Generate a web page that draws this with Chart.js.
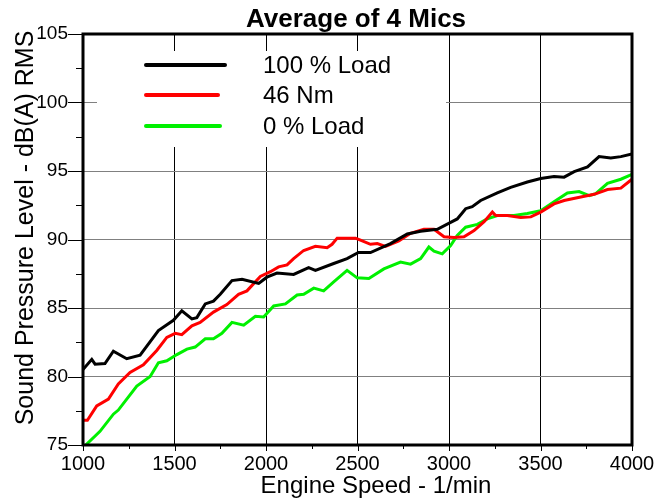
<!DOCTYPE html>
<html>
<head>
<meta charset="utf-8">
<script src="https://cdn.jsdelivr.net/npm/chart.js@4/dist/chart.umd.min.js"></script>
<style>
  html, body { margin: 0; padding: 0; background: #fff; }
  #wrap { width: 656px; height: 504px; }
</style>
</head>
<body>
<div id="wrap"><canvas id="chart" width="656" height="504"></canvas></div>
<script>
  // data (engine speed in 1/min, level in dB(A))
  const rpmFull = [1000, 1048, 1066, 1120, 1166, 1239, 1312, 1412, 1494, 1540, 1595, 1622, 1668, 1713, 1750, 1814,
    1869, 1960, 2005, 2060, 2151, 2233, 2270, 2370, 2443, 2505, 2571, 2680, 2772, 2845, 2936, 3009,
    3045, 3091, 3127, 3173, 3264, 3337, 3428, 3501, 3574, 3629, 3684, 3757, 3820, 3884, 3939, 4000];
  const levelFull = [80.5, 81.25, 80.9, 80.95, 81.85, 81.3, 81.55, 83.35, 84.1, 84.8, 84.2, 84.3, 85.3, 85.5, 86.0, 87.0,
    87.1, 86.8, 87.25, 87.55, 87.45, 87.95, 87.75, 88.25, 88.6, 89.05, 89.05, 89.7, 90.4, 90.6, 90.75, 91.25,
    91.5, 92.25, 92.4, 92.85, 93.4, 93.8, 94.2, 94.45, 94.6, 94.55, 94.95, 95.3, 96.05, 95.95, 96.05, 96.25];

  const rpm46 = [1000, 1024, 1075, 1139, 1193, 1257, 1330, 1403, 1458, 1504, 1540, 1595, 1640, 1713, 1786, 1850,
    1896, 1969, 2024, 2069, 2115, 2151, 2206, 2270, 2334, 2361, 2389, 2489, 2516, 2571, 2608, 2653,
    2726, 2790, 2863, 2918, 2973, 3027, 3082, 3137, 3192, 3237, 3255, 3319, 3392, 3447, 3501, 3574,
    3629, 3720, 3793, 3866, 3939, 4000];
  const level46 = [76.8, 76.8, 77.85, 78.35, 79.45, 80.3, 80.85, 81.9, 82.85, 83.15, 83.05, 83.7, 83.95, 84.7, 85.25, 86.0,
    86.25, 87.3, 87.65, 88.0, 88.15, 88.6, 89.2, 89.5, 89.4, 89.65, 90.1, 90.1, 89.95, 89.65, 89.7, 89.5,
    89.9, 90.45, 90.75, 90.75, 90.2, 90.15, 90.2, 90.65, 91.3, 92.0, 91.75, 91.75, 91.6, 91.65, 92.0, 92.6,
    92.85, 93.1, 93.3, 93.65, 93.75, 94.4];

  const rpmZero = [1015, 1093, 1166, 1193, 1239, 1294, 1367, 1412, 1458, 1513, 1568, 1613, 1668, 1713, 1759, 1814,
    1878, 1942, 1987, 2042, 2106, 2170, 2206, 2261, 2315, 2370, 2443, 2498, 2562, 2644, 2735, 2790,
    2845, 2890, 2918, 2963, 3009, 3045, 3091, 3155, 3209, 3264, 3355, 3428, 3501, 3574, 3647, 3711,
    3766, 3802, 3866, 3939, 4000];
  const levelZero = [75.0, 76.0, 77.25, 77.55, 78.35, 79.3, 80.0, 81.0, 81.15, 81.6, 82.0, 82.15, 82.75, 82.75, 83.15, 83.95,
    83.75, 84.4, 84.35, 85.15, 85.3, 85.95, 86.0, 86.45, 86.25, 86.9, 87.75, 87.2, 87.15, 87.85, 88.35, 88.2,
    88.6, 89.45, 89.15, 88.95, 89.55, 90.3, 90.9, 91.1, 91.5, 91.75, 91.75, 91.9, 92.1, 92.75, 93.4, 93.5,
    93.2, 93.35, 94.1, 94.4, 94.75];

  const seriesNames = ["100 % Load", "46 Nm", "0 % Load"];
  const seriesColors = ["#000000", "#ff0000", "#00f000"];

  const xTicks = [1000, 1500, 2000, 2500, 3000, 3500, 4000];
  const yTicks = [75, 80, 85, 90, 95, 100, 105];

  const FONT = "'Liberation Sans', Arial, sans-serif";

  function toPoints(xs, ys) {
    return xs.map((x, i) => ({ x: x, y: ys[i] }));
  }

  // legend box, minor ticks, frame and titles
  const decor = {
    id: "decor",
    beforeDatasetsDraw(chart) {
      const ctx = chart.ctx;
      ctx.save();
      ctx.fillStyle = "#fff";
      ctx.fillRect(97, 51, 349, 96);
      const rows = [65, 95, 126];
      const ends = [225, 218, 220];
      chart.data.datasets.forEach((ds, i) => {
        ctx.strokeStyle = ds.borderColor;
        ctx.lineWidth = 4;
        ctx.lineCap = "round";
        ctx.beginPath();
        ctx.moveTo(146, rows[i]);
        ctx.lineTo(ends[i], rows[i]);
        ctx.stroke();
        ctx.fillStyle = "#000";
        ctx.font = "24px " + FONT;
        ctx.textBaseline = "middle";
        ctx.textAlign = "left";
        ctx.fillText(ds.label, 263, rows[i] + 1);
      });
      ctx.restore();
    },
    afterDraw(chart) {
      const ctx = chart.ctx;
      const a = chart.chartArea;
      const xs = chart.scales.x, ys = chart.scales.y;
      ctx.save();
      ctx.strokeStyle = "#000";
      ctx.lineWidth = 1;
      ctx.beginPath();
      for (let v = ys.min; v <= ys.max + 0.01; v += 2.5) {
        const p = Math.round(ys.getPixelForValue(v)) + 0.5;
        const len = (v % 5 === 0) ? 15 : 7;
        ctx.moveTo(a.left - len, p);
        ctx.lineTo(a.left, p);
      }
      for (let v = xs.min; v <= xs.max + 0.01; v += 250) {
        const p = Math.round(xs.getPixelForValue(v)) + 0.5;
        const len = (v % 500 === 0) ? 6 : 4;
        ctx.moveTo(p, a.bottom);
        ctx.lineTo(p, a.bottom + len);
      }
      ctx.stroke();

      // frame
      ctx.lineWidth = 3;
      ctx.strokeRect(a.left, a.top, a.right - a.left, a.bottom - a.top);

      // titles
      ctx.fillStyle = "#000";
      ctx.textAlign = "center";
      ctx.textBaseline = "alphabetic";
      ctx.font = "bold 26px " + FONT;
      ctx.fillText("Average of 4 Mics", 356, 27);
      ctx.font = "24px " + FONT;
      ctx.fillText("Engine Speed - 1/min", 376, 493);
      ctx.translate(33, 228);
      ctx.rotate(-Math.PI / 2);
      ctx.font = "25px " + FONT;
      ctx.fillText("Sound Pressure Level - dB(A) RMS", 0, 0);
      ctx.restore();
    }
  };

  new Chart(document.getElementById("chart"), {
    type: "line",
    data: {
      datasets: [
        { label: seriesNames[0], data: toPoints(rpmFull, levelFull), borderColor: seriesColors[0] },
        { label: seriesNames[1], data: toPoints(rpm46, level46), borderColor: seriesColors[1] },
        { label: seriesNames[2], data: toPoints(rpmZero, levelZero), borderColor: seriesColors[2] }
      ]
    },
    options: {
      responsive: false,
      animation: false,
      layout: { padding: { left: 0, top: 34, right: 24, bottom: 0 } },
      elements: {
        point: { radius: 0 },
        line: { borderWidth: 3, tension: 0, fill: false }
      },
      plugins: {
        legend: { display: false },
        title: { display: false },
        tooltip: { enabled: false }
      },
      scales: {
        x: {
          type: "linear",
          min: 1000,
          max: 4000,
          afterBuildTicks: s => { s.ticks = xTicks.map(v => ({ value: v })); },
          afterFit: s => { s.height = 59; s.paddingLeft = 0; s.paddingRight = 0; },
          grid: { color: "#000", lineWidth: 1, drawTicks: false },
          border: { display: false },
          ticks: { color: "#000", font: { family: FONT, size: 20 }, padding: 7, maxRotation: 0, callback: v => String(v) }
        },
        y: {
          min: 75,
          max: 105,
          afterBuildTicks: s => { s.ticks = yTicks.map(v => ({ value: v })); },
          afterFit: s => { s.width = 83; s.paddingTop = 0; s.paddingBottom = 0; },
          grid: { color: "#808080", lineWidth: 1, drawTicks: false },
          border: { display: false },
          ticks: { color: "#000", font: { family: FONT, size: 19 }, padding: 15, callback: v => String(v) }
        }
      }
    },
    plugins: [decor]
  });
</script>
</body>
</html>
